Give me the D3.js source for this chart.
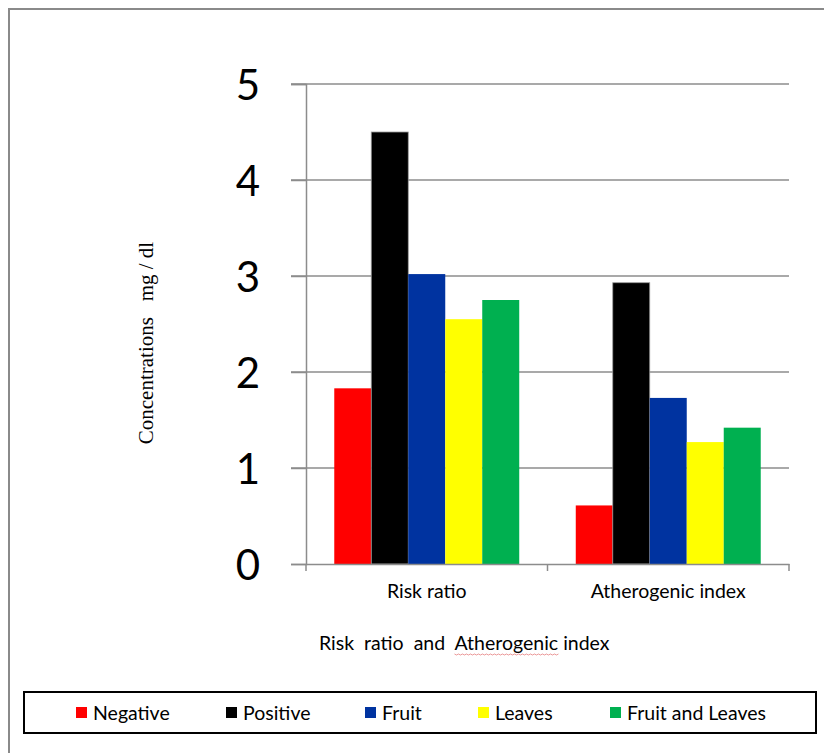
<!DOCTYPE html>
<html><head><meta charset="utf-8">
<script src="https://cdn.jsdelivr.net/npm/d3@7"></script>
<style>body{margin:0;background:#fff}svg{display:block}</style>
</head><body>
<script>
const categories = ["Risk ratio", "Atherogenic index"];
const seriesNames = ["Negative", "Positive", "Fruit", "Leaves", "Fruit and Leaves"];
const negative = [1.83, 0.61];
const positive = [4.5, 2.93];
const fruit = [3.02, 1.73];
const leaves = [2.55, 1.27];
const fruitAndLeaves = [2.75, 1.42];
const yTicks = [0, 1, 2, 3, 4, 5];
const colors = ["#FF0000", "#000000", "#0033A0", "#FFFF00", "#00B050"];
const seriesValues = [negative, positive, fruit, leaves, fruitAndLeaves];

const W = 824, H = 753;
const svg = d3.select("body").append("svg").attr("width", W).attr("height", H);
const sans = "Lato, 'Open Sans', sans-serif";
const fs = 19.5;

// outer frame
svg.append("rect").attr("x", 9).attr("y", 9).attr("width", 830).attr("height", 760)
  .attr("fill", "none").attr("stroke", "#8a8a8a").attr("stroke-width", 2);

const x0 = d3.scaleBand(categories, [306, 789]).padding(0);
const x1 = d3.scaleBand(seriesNames, [0, x0.bandwidth()]).paddingInner(0).paddingOuter(0.764);
const y = d3.scaleLinear([0, 5], [564, 84]);

// gridlines
svg.append("g").selectAll("line").data(yTicks.filter(d => d > 0)).join("line")
  .attr("x1", 291).attr("x2", 789).attr("y1", d => y(d)).attr("y2", d => y(d))
  .attr("stroke", "#8c8c8c").attr("stroke-width", 1.5);

// bars
const gCat = svg.append("g").selectAll("g").data(categories).join("g")
  .attr("transform", d => `translate(${x0(d)},0)`);
gCat.selectAll("rect").data((c, ci) => seriesNames.map((s, si) => ({s, si, v: seriesValues[si][ci]})))
  .join("rect")
  .attr("x", d => x1(d.s)).attr("width", x1.bandwidth())
  .attr("y", d => y(d.v)).attr("height", d => y(0) - y(d.v))
  .attr("fill", d => colors[d.si])
  .attr("stroke", d => d.si === 1 ? "#9a9a9a" : "none").attr("stroke-width", 0.8);

// y axis
const yAxis = svg.append("g").attr("transform", "translate(306,0)")
  .call(d3.axisLeft(y).tickValues(yTicks).tickSize(15).tickPadding(31).tickFormat(d3.format("d")));
yAxis.select(".domain").attr("stroke", "#8c8c8c").attr("stroke-width", 1.5);
yAxis.selectAll(".tick line").attr("stroke", "#8c8c8c").attr("stroke-width", 1.5);
yAxis.selectAll(".tick text").attr("font-family", sans).attr("font-size", 42).attr("fill", "#000").attr("dy", "0.36em");

// x axis
const xAxis = svg.append("g").attr("transform", "translate(0,564)")
  .call(d3.axisBottom(x0).tickSize(0).tickPadding(20));
xAxis.select(".domain").attr("stroke", "#8c8c8c").attr("stroke-width", 1.5);
xAxis.selectAll(".tick text").attr("font-family", sans).attr("font-size", fs).attr("fill", "#000");
// category boundary ticks
const bounds = categories.map(c => x0(c)).concat([x0(categories[categories.length - 1]) + x0.bandwidth()]);
svg.append("g").selectAll("line").data(bounds).join("line")
  .attr("x1", d => d).attr("x2", d => d).attr("y1", 564).attr("y2", 571)
  .attr("stroke", "#8c8c8c").attr("stroke-width", 1.5);

// axis titles
svg.append("text").attr("transform", "translate(153,343) rotate(-90)")
  .attr("text-anchor", "middle").attr("font-family", "'Liberation Serif', 'Times New Roman', serif")
  .attr("font-size", 21).attr("fill", "#000").attr("xml:space", "preserve")
  .text("Concentrations   mg / dl");

const xt = svg.append("text").attr("x", 319).attr("y", 650)
  .attr("font-family", sans).attr("font-size", fs).attr("fill", "#000")
  .attr("xml:space", "preserve").style("white-space", "pre");
const pre = "Risk  ratio  and  ";
xt.append("tspan").text(pre);
xt.append("tspan").text("Atherogenic");
xt.append("tspan").text(" index");
// spellcheck-style wavy underline under "Atherogenic"
{
  const node = xt.node();
  const start = node.getSubStringLength(0, pre.length);
  const len = node.getSubStringLength(pre.length, "Atherogenic".length);
  const pts = d3.range(0, len + 1, 2).map((d, i) => [319 + start + d, 654 + (i % 2 ? 1 : 0)]);
  svg.append("path").attr("d", d3.line()(pts)).attr("fill", "none").attr("stroke", "#e06060").attr("stroke-width", 0.8).attr("opacity", 0.8);
}

// legend
svg.append("rect").attr("x", 24).attr("y", 692).attr("width", 792).attr("height", 41)
  .attr("fill", "#fff").attr("stroke", "#000").attr("stroke-width", 2);
const legendX = [76, 226, 365, 478, 610];
const lg = svg.append("g").selectAll("g").data(seriesNames).join("g")
  .attr("transform", (d, i) => `translate(${legendX[i]},707)`);
lg.append("rect").attr("width", 11).attr("height", 11).attr("fill", (d, i) => colors[i]);
lg.append("text").attr("x", 17).attr("y", 5.5).attr("dy", "0.36em")
  .attr("font-family", sans).attr("font-size", fs).attr("fill", "#000").text(d => d);
</script>
</body></html>
